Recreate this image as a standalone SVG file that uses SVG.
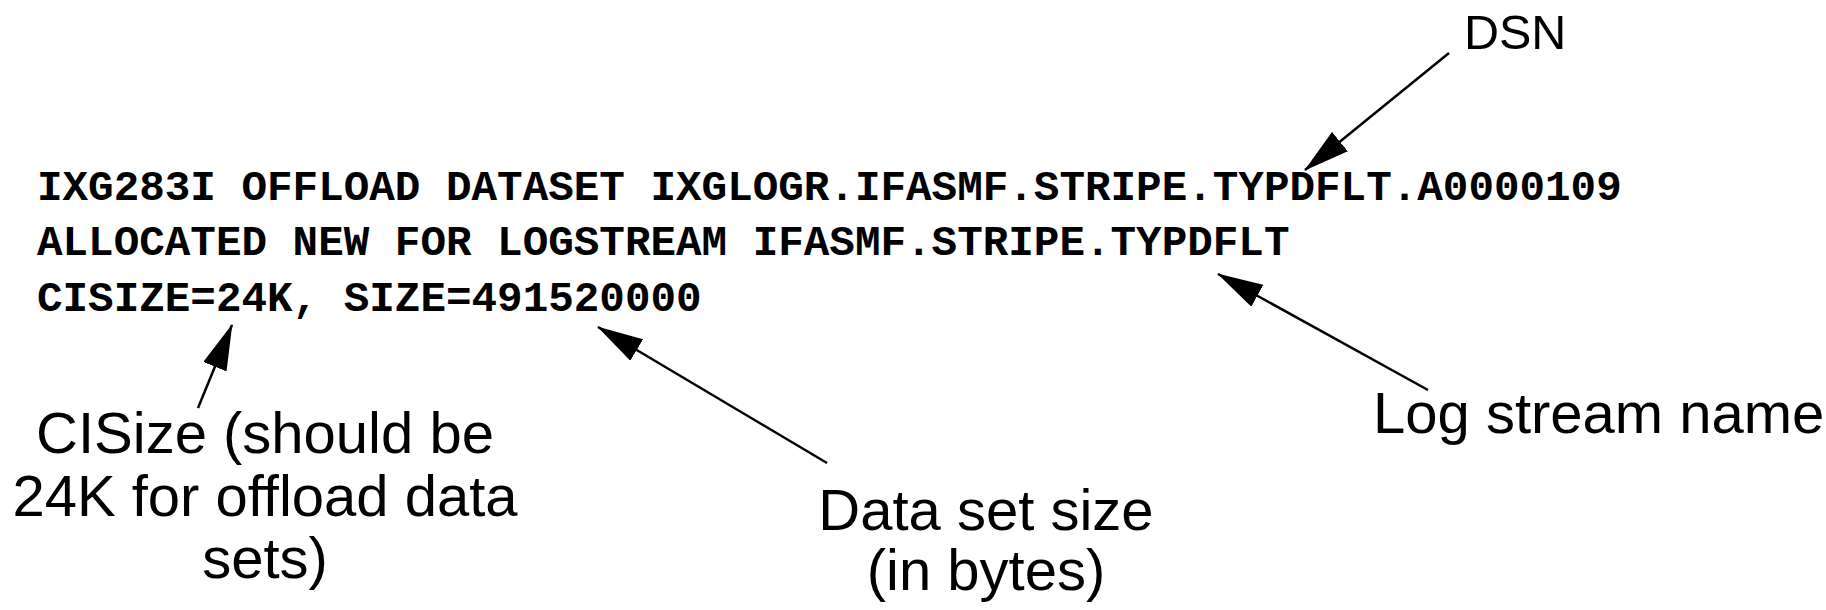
<svg xmlns="http://www.w3.org/2000/svg" width="1826" height="610" viewBox="0 0 1826 610">
  <style>
    .msg { font-family: "Liberation Mono", "Courier New", monospace; font-weight: bold; font-size: 42.6px; fill: #000; }
    .lbl { font-family: "Liberation Sans", Arial, sans-serif; font-size: 58px; fill: #000; }
    .conn { stroke: #000; stroke-width: 2.5; fill: none; marker-end: url(#head); }
  </style>
  <defs>
    <marker id="head" viewBox="0 0 46 25" refX="45" refY="12.5" markerWidth="46" markerHeight="25" markerUnits="userSpaceOnUse" orient="auto">
      <path d="M0,0 L46,12.5 L0,25 Z" fill="#000"/>
    </marker>
  </defs>
  <rect width="1826" height="610" fill="#fff"/>

  <!-- console message -->
  <g id="message">
    <text class="msg" x="37" y="200">IXG283I OFFLOAD DATASET IXGLOGR.IFASMF.STRIPE.TYPDFLT.A0000109</text>
    <text class="msg" x="37" y="255">ALLOCATED NEW FOR LOGSTREAM IFASMF.STRIPE.TYPDFLT</text>
    <text class="msg" x="37" y="311">CISIZE=24K, SIZE=491520000</text>
  </g>

  <!-- callout labels -->
  <g id="dsn">
    <text class="lbl" x="1464" y="49" style="font-size:48.5px">DSN</text>
  </g>
  <g id="cisize">
    <text class="lbl" text-anchor="middle" x="265" y="453">CISize (should be</text>
    <text class="lbl" text-anchor="middle" x="265" y="516">24K for offload data</text>
    <text class="lbl" text-anchor="middle" x="265" y="578">sets)</text>
  </g>
  <g id="dssize">
    <text class="lbl" text-anchor="middle" x="986" y="530">Data set size</text>
    <text class="lbl" text-anchor="middle" x="986" y="590">(in bytes)</text>
  </g>
  <g id="logstream">
    <text class="lbl" x="1373" y="433">Log stream name</text>
  </g>

  <!-- pointers -->
  <g id="connectors">
    <line class="conn" x1="1449" y1="53" x2="1305" y2="170"/>
    <line class="conn" x1="1428" y1="390" x2="1218" y2="274"/>
    <line class="conn" x1="827" y1="463" x2="598" y2="327"/>
    <line class="conn" x1="198" y1="408" x2="232" y2="325"/>
  </g>
</svg>
